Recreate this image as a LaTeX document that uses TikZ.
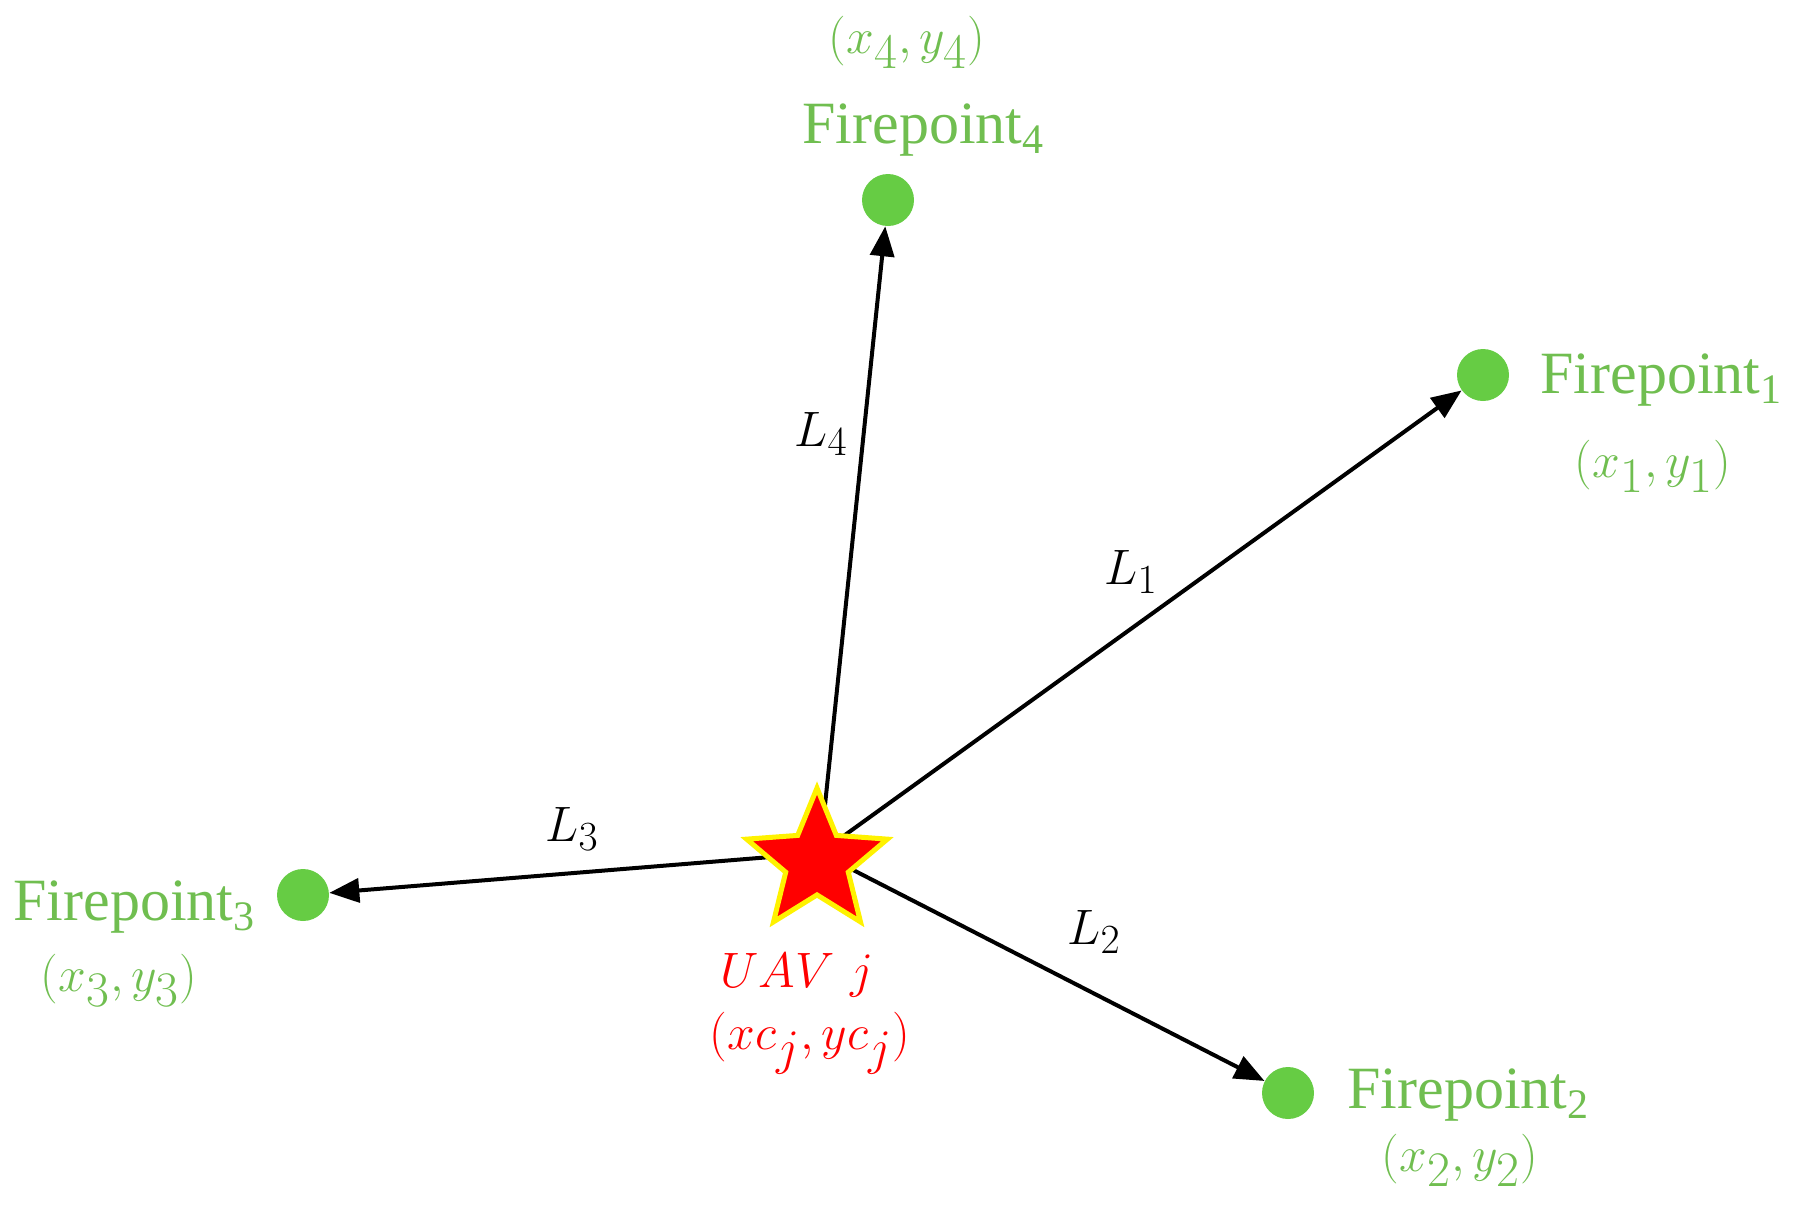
\documentclass[tikz,border=0pt]{standalone}
\usepackage{fontspec}
\setmainfont{Liberation Serif}
\usetikzlibrary{shapes.geometric,arrows.meta}
\definecolor{fgreen}{RGB}{102,204,68}
\definecolor{tgreen}{RGB}{112,190,80}
\newcommand\fpsub[1]{\raisebox{-5pt}{\fontsize{21}{24}\selectfont #1}}
\begin{document}
\begin{tikzpicture}[x=0.5pt,y=-0.5pt,
  fdot/.style={circle,fill=fgreen,minimum size=26pt,inner sep=0pt},
  ftext/.style={text=tgreen,font=\fontsize{30}{34}\selectfont,inner sep=0pt},
  fmath/.style={text=tgreen,font=\fontsize{35}{40}\selectfont,inner sep=0pt},
  lbl/.style={font=\fontsize{32}{36}\selectfont,inner sep=0pt},
  arr/.style={line width=2pt,-{Triangle[length=15pt,width=12pt]}},
  uav/.style={star,star points=5,star point ratio=2.25,minimum size=74pt,inner sep=0pt,
    fill=red,draw=yellow,line width=2.5pt}]
\useasboundingbox (0,0) rectangle (1800,1206);
% firepoints
\node[fdot] (d1) at (1483,375) {};
\node[fdot] (d2) at (1288,1093) {};
\node[fdot] (d3) at (303,895) {};
\node[fdot] (d4) at (888,200) {};
\coordinate (o) at (820,853);
% connectors
\draw[arr] (o) -- (d1);
\draw[arr] (o) -- (d2);
\draw[arr] (o) -- (d3);
\draw[arr] (o) -- (d4);
% UAV star
\node[uav] (s) at (817,862) {};
% labels on connectors
\node[lbl] (l1) at (1131,572) {$L_1$};
\node[lbl] (l2) at (1094,932) {$L_2$};
\node[lbl] (l3) at (572,829) {$L_3$};
\node[lbl] (l4) at (821,434) {$L_4$};
% firepoint texts
\node[ftext,anchor=base west] (t1) at (1540,393) {Firepoint\fpsub{1}};
\node[fmath] (c1) at (1653,466) {$(x_1,y_1)$};
\node[ftext,anchor=base west] (t2) at (1347,1108) {Firepoint\fpsub{2}};
\node[fmath] (c2) at (1460,1160) {$(x_2,y_2)$};
\node[ftext,anchor=base west] (t3) at (13,920) {Firepoint\fpsub{3}};
\node[fmath] (c3) at (119,980) {$(x_3,y_3)$};
\node[ftext,anchor=base west] (t4) at (802,143) {Firepoint\fpsub{4}};
\node[fmath] (c4) at (907,42) {$(x_4,y_4)$};
% UAV text
\node[lbl,text=red,anchor=base] (u1) at (797,987) {$UAV\ j$};
\node[fmath,text=red] (u2) at (810,1043) {$(xc_j,yc_j)$};
\end{tikzpicture}
\end{document}
